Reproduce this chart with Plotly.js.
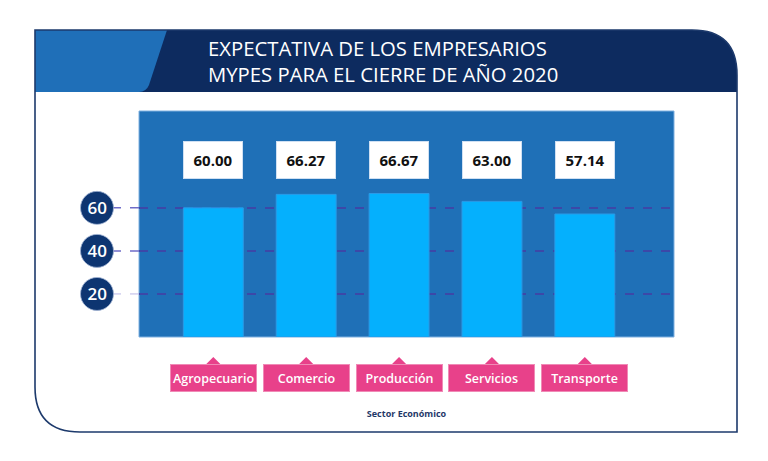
<!DOCTYPE html>
<html>
<head>
<meta charset="utf-8">
<script src="https://cdn.plot.ly/plotly-3.0.1.min.js"></script>
<style>html,body{margin:0;padding:0;background:#fff;}#chart{width:768px;height:461px;}</style>
</head>
<body>
<div id="chart"></div>
<script>
// ---- data ----
var sectors = ["Agropecuario", "Comercio", "Producción", "Servicios", "Transporte"];
var expectativa = [60.00, 66.27, 66.67, 63.00, 57.14];
var yTickVals = [20, 40, 60];
var yTickText = ["20", "40", "60"];
var titleLines = ["EXPECTATIVA DE LOS EMPRESARIOS", "MYPES PARA EL CIERRE DE AÑO 2020"];
var xTitle = "Sector Económico";

// ---- layout helpers (pixel -> paper) ----
var W = 768, H = 461, ML = 139, MR = 94, MT = 111, MB = 124;
var PW = W - ML - MR, PH = H - MT - MB;
function px(x) { return (x - ML) / PW; }
function py(y) { return (H - MB - y) / PH; }
function path(cmds) {
  return cmds.map(function (c) {
    if (c[0] === 'Z') return 'Z';
    var out = c[0];
    for (var i = 1; i < c.length; i += 2) {
      out += ' ' + px(c[i]).toFixed(5) + ',' + py(c[i + 1]).toFixed(5);
    }
    return out;
  }).join(' ');
}
var xRange = [-0.8, 4.96];
function catPaper(i) { return (i - xRange[0]) / (xRange[1] - xRange[0]); }

var font = "'Open Sans', 'DejaVu Sans', sans-serif";

var shapes = [];
// card
var cardPath = path([['M', 35, 30], ['L', 692, 30], ['Q', 737, 30, 737, 75], ['L', 737, 432], ['L', 80, 432], ['Q', 35, 432, 35, 387], ['Z']]);
shapes.push({type: 'path', xref: 'paper', yref: 'paper', layer: 'below', path: cardPath, fillcolor: '#ffffff', line: {width: 0}});
// header
shapes.push({type: 'path', xref: 'paper', yref: 'paper', layer: 'below',
  path: path([['M', 35, 30], ['L', 692, 30], ['Q', 737, 30, 737, 75], ['L', 737, 92], ['L', 35, 92], ['Z']]),
  fillcolor: '#0d2b5f', line: {width: 0}});
shapes.push({type: 'path', xref: 'paper', yref: 'paper', layer: 'below',
  path: path([['M', 35, 30], ['L', 167, 30], ['L', 149, 85], ['Q', 146, 92, 139, 92], ['L', 35, 92], ['Z']]),
  fillcolor: '#1f6fb8', line: {width: 0}});
// card border
shapes.push({type: 'path', xref: 'paper', yref: 'paper', layer: 'below', path: cardPath, fillcolor: 'rgba(0,0,0,0)', line: {color: '#1d3a6c', width: 1.6}});
// plot background
shapes.push({type: 'rect', xref: 'paper', yref: 'paper', layer: 'below', x0: 0, x1: 1, y0: 0, y1: 1,
  fillcolor: '#1f70b7', line: {color: '#7fb0e0', width: 1}});
// tick circles + grid extensions
yTickVals.forEach(function (v, i) {
  shapes.push({type: 'line', xref: 'paper', yref: 'y', layer: 'below', x0: px(112), x1: 0, y0: v, y1: v,
    line: {color: v === 20 ? '#b9b6e6' : '#6f6cc8', width: v === 20 ? 1 : 1.5, dash: 'dash'}});
  shapes.push({type: 'circle', xref: 'paper', yref: 'y', layer: 'below', xsizemode: 'pixel', ysizemode: 'pixel',
    xanchor: px(97), yanchor: v, x0: -16.5, x1: 16.5, y0: -16.5, y1: 16.5,
    fillcolor: '#0d3571', line: {color: '#9fb3d3', width: 0.8}});
});
// triangles on category labels
sectors.forEach(function (s, i) {
  var cx = catPaper(i);
  var hw = 9 / PW;
  shapes.push({type: 'path', xref: 'paper', yref: 'paper', layer: 'below',
    path: 'M ' + (cx - hw) + ',' + py(366) + ' L ' + cx + ',' + py(357) + ' L ' + (cx + hw) + ',' + py(366) + ' Z',
    fillcolor: '#e8418a', line: {width: 0}});
});

var annotations = [];
annotations.push({xref: 'paper', yref: 'paper', x: px(206), y: py(32), xanchor: 'left', yanchor: 'top', align: 'left',
  showarrow: false, text: titleLines.join('<br>'), font: {family: font, size: 20.3, color: '#ffffff'}});
sectors.forEach(function (s, i) {
  annotations.push({xref: 'x', yref: 'paper', x: s, y: py(160), xanchor: 'center', yanchor: 'middle', showarrow: false,
    text: '<b>' + expectativa[i].toFixed(2) + '</b>', bgcolor: '#ffffff', bordercolor: '#cfe0f3', borderwidth: 1,
    width: 56, height: 34, font: {family: font, size: 15, color: '#111111'}});
  annotations.push({xref: 'x', yref: 'paper', x: s, y: py(378), xanchor: 'center', yanchor: 'middle', showarrow: false,
    text: s, bgcolor: '#e8418a', bordercolor: '#f08ab6', borderwidth: 1,
    width: 83, height: 24, font: {family: font, size: 12.5, weight: 600, color: '#ffffff'}});
});

var trace = {
  type: 'bar', x: sectors, y: expectativa, width: 0.645,
  marker: {color: '#05b0fd', line: {color: '#2a9ae6', width: 1}},
  hoverinfo: 'x+y'
};

var layout = {
  width: W, height: H,
  margin: {l: ML, r: MR, t: MT, b: MB},
  paper_bgcolor: '#ffffff', plot_bgcolor: 'rgba(0,0,0,0)',
  showlegend: false,
  xaxis: {type: 'category', range: xRange, showticklabels: false, showgrid: false, zeroline: false, showline: false,
    title: {text: '<b>' + xTitle + '</b>', standoff: 73, font: {family: font, size: 9, color: '#1f3868'}}},
  yaxis: {range: [0, 105], tickvals: yTickVals, ticktext: yTickText, ticks: '', ticklabelstandoff: 31,
    tickfont: {family: font, size: 17, weight: 600, color: '#ffffff'}, showgrid: true, gridcolor: '#3c48a8', gridwidth: 1.5,
    griddash: 'dash', zeroline: false, showline: false},
  shapes: shapes,
  annotations: annotations
};

Plotly.newPlot('chart', [trace], layout, {displayModeBar: false, staticPlot: true});
</script>
</body>
</html>
